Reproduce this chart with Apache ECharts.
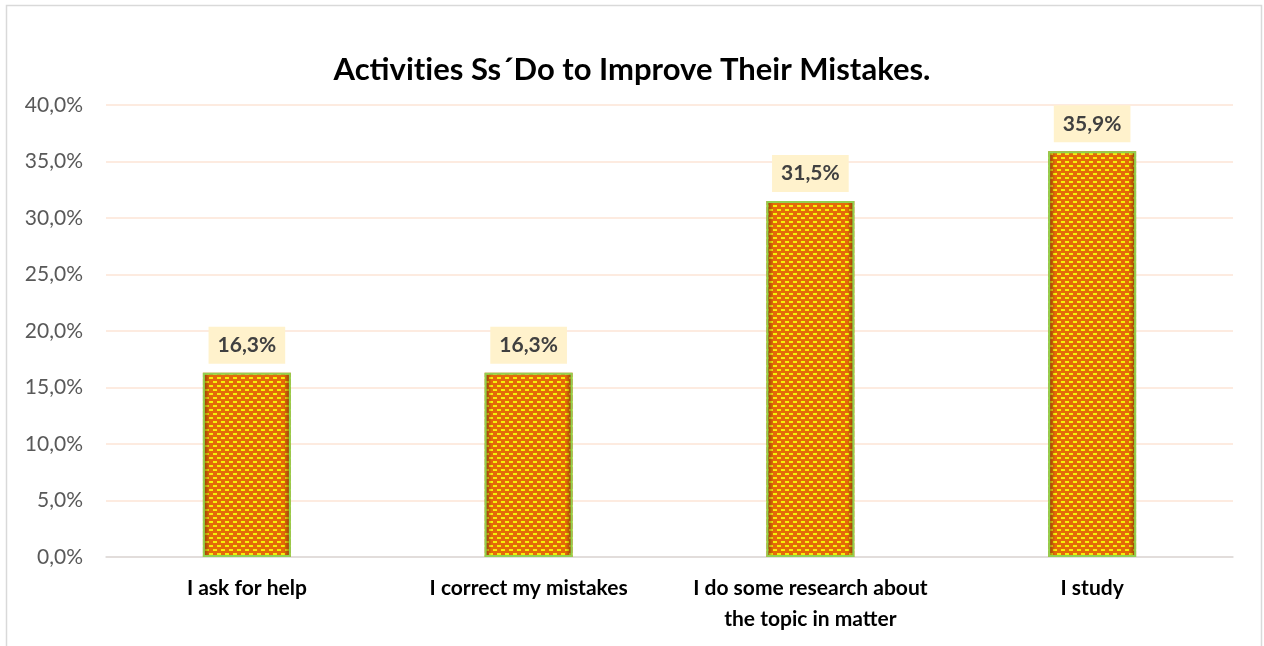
<!DOCTYPE html>
<html>
<head>
<meta charset="utf-8">
<script src="https://cdn.jsdelivr.net/npm/echarts@6/dist/echarts.min.js"></script>
<style>
  html, body { margin: 0; padding: 0; background: #fff; }
  #chart { width: 1264px; height: 646px; }
</style>
</head>
<body>
<div id="chart"></div>
<script>
const categories = [
  'I ask for help',
  'I correct my mistakes',
  'I do some research about\nthe topic in matter',
  'I study'
];
const shares = [16.3, 16.3, 31.5, 35.9];
const yTicks = { min: 0, max: 40, step: 5 };
// rich-text pieces keep the "t" and "i" of "Activities" as separate glyphs
const titleText = 'Activit{t|i}{t|es Ss´Do to Improve Their Mistakes.}';

// Brick-style fill: yellow dashes on orange, alternate rows offset
function brickPattern() {
  const c = document.createElement('canvas');
  c.width = 8; c.height = 8;
  const g = c.getContext('2d');
  g.fillStyle = '#E46A08';
  g.fillRect(0, 0, 8, 8);
  g.fillStyle = '#F4F00A';
  g.fillRect(1, 1, 4, 2);
  g.fillRect(5, 5, 4, 2);
  g.fillRect(-3, 5, 4, 2);
  return c;
}

const fmt = v => v.toFixed(1).replace('.', ',') + '%';
const font = 'Lato, "Open Sans", sans-serif';
const titleStyle = { fontFamily: font, fontSize: 31, fontWeight: 'bold', color: '#000' };

const chart = echarts.init(document.getElementById('chart'), null, { renderer: 'canvas' });
chart.setOption({
  animation: false,
  backgroundColor: '#ffffff',
  title: {
    text: titleText,
    left: 'center',
    top: 49,
    textStyle: Object.assign({}, titleStyle, { rich: { t: titleStyle } })
  },
  graphic: [{
    type: 'rect',
    shape: { x: 6.5, y: 5.5, width: 1255, height: 660 },
    style: { fill: 'none', stroke: '#D9D9D9', lineWidth: 1.5 },
    silent: true,
    z: -1
  }],
  grid: { left: 106, right: 31, top: 105, bottom: 89 },
  xAxis: {
    type: 'category',
    data: categories,
    axisLine: { lineStyle: { color: '#D9D9D9', width: 1.5 } },
    axisTick: { show: false },
    axisLabel: {
      fontFamily: font, fontSize: 21, fontWeight: 'bold', color: '#000',
      margin: 16, lineHeight: 31, interval: 0
    }
  },
  yAxis: {
    type: 'value',
    min: yTicks.min, max: yTicks.max, interval: yTicks.step,
    axisLine: { show: false },
    axisTick: { show: false },
    splitLine: { lineStyle: { color: '#FCE4D6', width: 1.5 } },
    axisLabel: {
      fontFamily: font, fontSize: 21, color: '#595959', margin: 23,
      formatter: v => fmt(v)
    }
  },
  series: [
    {
      type: 'bar',
      data: shares,
      barWidth: 88,
      itemStyle: {
        color: { image: brickPattern(), repeat: 'repeat' }
      },
      label: {
        show: true,
        position: 'top',
        distance: 9,
        formatter: p => fmt(p.value),
        fontFamily: font, fontSize: 21, fontWeight: 'bold', color: '#404040',
        backgroundColor: '#FFF2CC',
        lineHeight: 25,
        padding: [6, 9, 6, 9]
      },
      z: 2
    },
    {
      // darker inner edges and green outline of each bar
      type: 'bar',
      data: shares,
      barWidth: 88,
      barGap: '-100%',
      silent: true,
      itemStyle: {
        borderColor: '#92D050',
        borderWidth: 2,
        color: {
          type: 'linear', x: 0, y: 0, x2: 1, y2: 0,
          colorStops: [
            { offset: 0, color: 'rgba(100,35,0,0.7)' },
            { offset: 0.08, color: 'rgba(100,35,0,0)' },
            { offset: 0.92, color: 'rgba(100,35,0,0)' },
            { offset: 1, color: 'rgba(100,35,0,0.7)' }
          ]
        }
      },
      z: 3
    }
  ]
});
</script>
</body>
</html>
